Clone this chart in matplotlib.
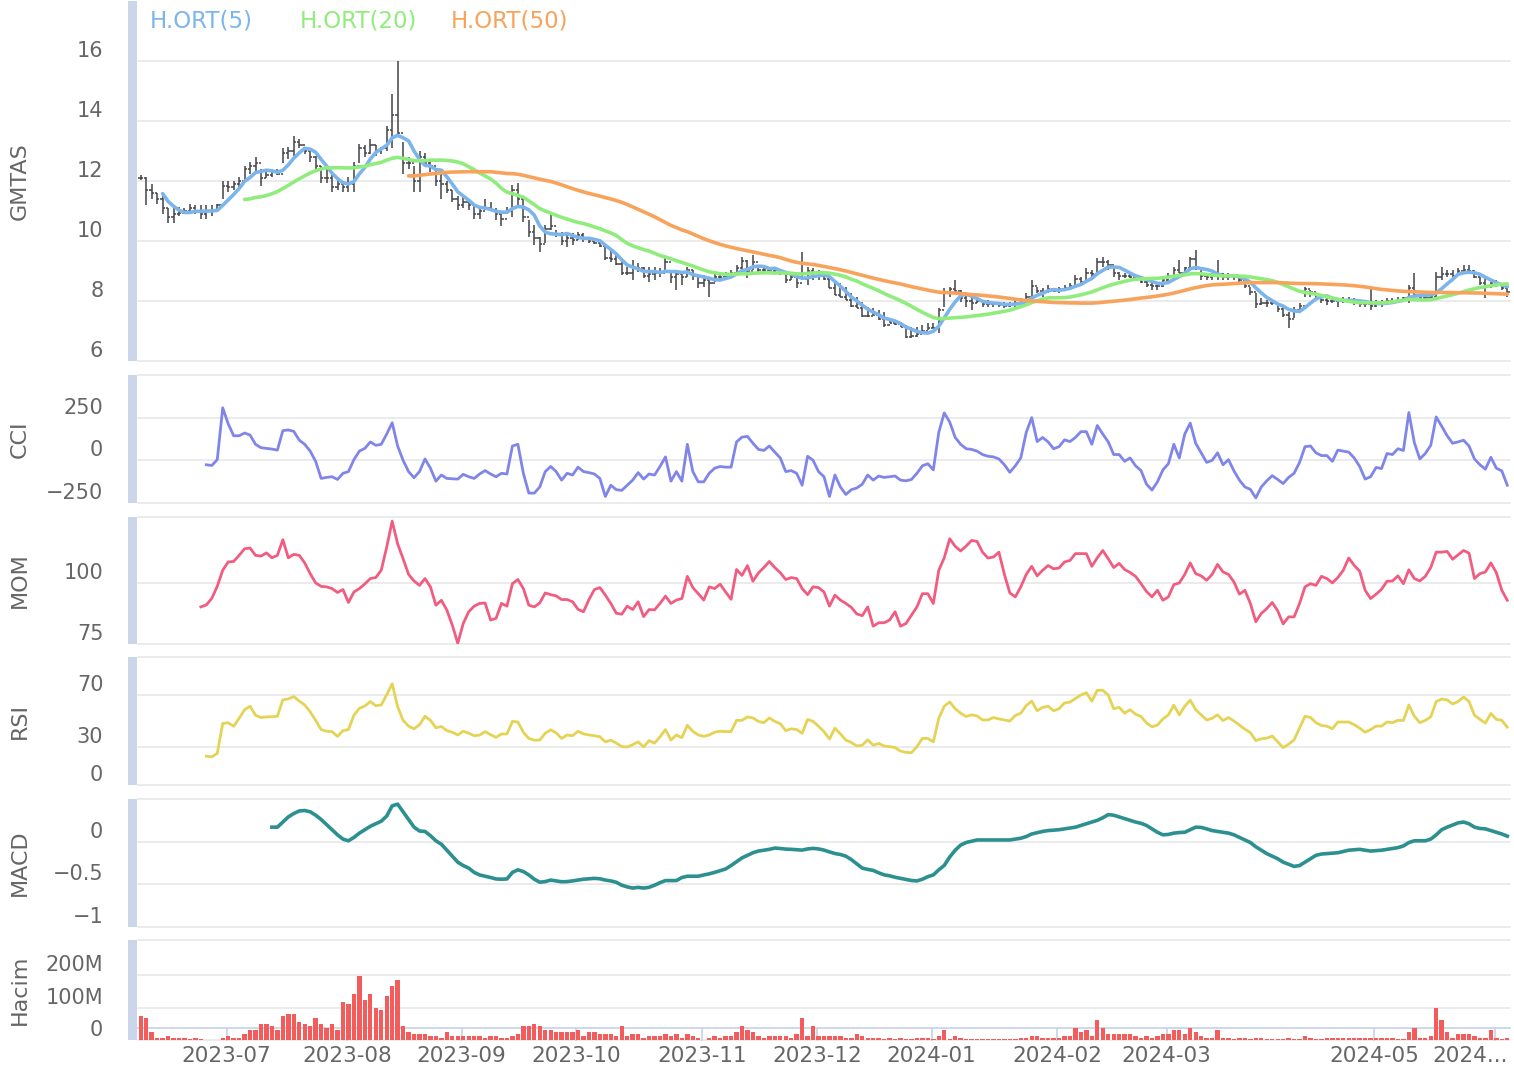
import numpy as np
import pandas as pd
import matplotlib
matplotlib.use("Agg")
import matplotlib.pyplot as plt
from matplotlib.collections import LineCollection
from matplotlib.patches import Rectangle
from matplotlib.transforms import ScaledTranslation, blended_transform_factory

plt.rcParams['font.family'] = ['DejaVu Sans']

# ---------------- data ----------------
high = [
    12.2, 12.15, 11.9, 11.6, 11.5, 11.1, 11.1, 11.15, 11.1, 11.25,
    11.2, 11.2, 11.2, 11.2, 11.25, 12.0, 12.0, 12.0, 12.15, 12.5,
    12.65, 12.8, 12.4, 12.35, 12.4, 12.4, 13.1, 13.15, 13.5, 13.4,
    13.15, 13.0, 12.85, 12.5, 12.4, 12.2, 12.15, 12.0, 12.15, 12.65,
    13.25, 13.2, 13.4, 13.2, 13.15, 13.85, 14.9, 16.0, 13.3, 12.8,
    12.5, 13.0, 12.95, 12.7, 12.4, 12.4, 12.0, 11.7, 11.5, 11.5,
    11.4, 11.2, 11.15, 11.4, 11.3, 11.1, 11.0, 11.15, 11.87, 11.92,
    11.42, 10.7, 10.53, 10.14, 10.53, 10.92, 10.37, 10.31, 10.26, 10.26,
    10.31, 10.26, 10.14, 10.09, 10.03, 9.87, 9.7, 9.64, 9.42, 9.14,
    9.37, 9.26, 9.14, 9.14, 9.14, 9.09, 9.42, 9.03, 9.03, 8.98,
    9.14, 9.03, 8.87, 8.87, 8.7, 8.92, 8.92, 8.98, 9.03, 9.2,
    9.48, 9.37, 9.53, 9.14, 9.09, 9.14, 9.14, 9.03, 8.92, 8.92,
    8.92, 9.64, 9.14, 9.09, 9.03, 8.92, 8.81, 8.7, 8.59, 8.48,
    8.26, 8.14, 7.98, 7.81, 7.76, 7.7, 7.64, 7.42, 7.37, 7.31,
    7.2, 7.14, 7.14, 7.2, 7.26, 7.26, 7.76, 8.42, 8.48, 8.7,
    8.37, 8.26, 8.2, 8.14, 8.03, 8.03, 7.98, 7.98, 7.98, 7.98,
    8.03, 8.09, 8.26, 8.7, 8.48, 8.42, 8.53, 8.42, 8.48, 8.53,
    8.59, 8.87, 8.81, 9.09, 9.03, 9.42, 9.48, 9.37, 9.09, 8.98,
    8.92, 8.92, 8.87, 8.81, 8.7, 8.64, 8.53, 8.76, 8.92, 9.14,
    9.37, 9.14, 9.48, 9.7, 9.03, 8.92, 8.92, 9.37, 8.92, 8.92,
    8.87, 8.87, 8.59, 8.48, 8.26, 8.09, 8.03, 8.03, 7.92, 7.81,
    7.64, 7.81, 7.92, 8.48, 8.37, 8.2, 8.14, 8.09, 8.14, 8.09,
    8.14, 8.14, 8.09, 8.03, 7.98, 8.48, 8.03, 8.03, 8.09, 8.09,
    8.14, 8.14, 8.53, 8.92, 8.2, 8.2, 8.2, 8.98, 9.14, 9.03,
    9.03, 9.09, 9.2, 9.2, 9.03, 8.81, 8.76, 8.64, 8.7, 8.59,
    8.48,
]
low = [
    12.05, 11.2, 11.4, 11.25, 10.9, 10.6, 10.6, 10.85, 10.9, 10.9,
    10.9, 10.75, 10.75, 10.85, 11.0, 11.4, 11.65, 11.7, 11.75, 12.05,
    12.25, 12.3, 11.85, 12.1, 12.15, 12.2, 12.6, 12.75, 12.85, 13.1,
    12.9, 12.65, 12.4, 11.95, 11.95, 11.65, 11.7, 11.65, 11.65, 11.65,
    12.6, 12.8, 12.9, 12.85, 12.9, 13.0, 13.1, 13.5, 12.25, 12.4,
    11.65, 11.65, 12.5, 12.3, 11.85, 11.4, 11.6, 11.3, 11.05, 11.1,
    11.05, 10.75, 10.75, 11.05, 11.0, 10.7, 10.5, 10.9, 10.8, 11.14,
    10.64, 10.14, 9.87, 9.64, 9.92, 10.37, 10.14, 9.87, 9.81, 9.87,
    10.03, 9.98, 9.92, 9.9, 9.81, 9.37, 9.31, 9.2, 8.87, 8.87,
    8.7, 8.98, 8.76, 8.64, 8.7, 8.81, 8.92, 8.59, 8.37, 8.53,
    8.81, 8.7, 8.42, 8.48, 8.14, 8.64, 8.7, 8.7, 8.81, 8.87,
    9.03, 8.76, 9.03, 8.98, 8.98, 8.92, 8.92, 8.87, 8.59, 8.7,
    8.42, 8.7, 8.53, 8.7, 8.7, 8.7, 8.42, 8.2, 8.14, 8.03,
    7.81, 7.76, 7.48, 7.48, 7.53, 7.37, 7.14, 7.26, 7.2, 7.14,
    6.76, 6.76, 6.81, 6.92, 7.03, 7.09, 6.92, 7.81, 8.14, 8.3,
    7.98, 7.81, 7.7, 7.92, 7.81, 7.81, 7.81, 7.81, 7.76, 7.81,
    7.81, 7.87, 7.92, 8.14, 8.26, 8.14, 8.26, 8.31, 8.26, 8.37,
    8.42, 8.48, 8.53, 8.7, 8.7, 8.92, 9.14, 9.03, 8.81, 8.7,
    8.76, 8.76, 8.7, 8.59, 8.48, 8.37, 8.37, 8.48, 8.64, 8.81,
    8.92, 8.87, 9.03, 9.03, 8.7, 8.7, 8.7, 8.7, 8.7, 8.7,
    8.7, 8.64, 8.42, 8.2, 7.76, 7.87, 7.81, 7.87, 7.64, 7.48,
    7.09, 7.42, 7.64, 8.14, 8.14, 8.03, 7.92, 7.87, 7.92, 7.81,
    7.92, 7.92, 7.87, 7.81, 7.81, 7.7, 7.81, 7.81, 7.87, 7.92,
    7.98, 7.98, 7.92, 8.14, 8.03, 8.03, 8.03, 8.14, 8.7, 8.81,
    8.76, 8.87, 8.92, 8.92, 8.76, 8.53, 8.09, 8.42, 8.48, 8.37,
    8.14,
]
close = [
    12.1, 11.7, 11.6, 11.4, 11.1, 10.8, 10.9, 10.95, 11.0, 11.1,
    11.0, 10.9, 11.0, 11.0, 11.2, 11.85, 11.8, 11.9, 12.0, 12.4,
    12.5, 12.6, 12.1, 12.2, 12.3, 12.25, 12.95, 13.0, 13.3, 13.2,
    13.0, 12.8, 12.5, 12.1, 12.1, 11.8, 11.9, 11.8, 11.9, 12.5,
    13.1, 12.95, 13.2, 13.0, 13.1, 13.7, 14.2, 13.6, 12.6, 12.6,
    12.0, 12.8, 12.6, 12.5, 12.0, 11.9, 11.7, 11.4, 11.2, 11.3,
    11.2, 10.9, 11.0, 11.1, 11.05, 10.9, 10.75, 11.0, 11.7, 11.4,
    10.8, 10.3, 10.1, 9.9, 10.4, 10.5, 10.25, 10.0, 10.1, 10.05,
    10.2, 10.1, 10.0, 9.92, 9.82, 9.45, 9.4, 9.25, 8.95, 8.95,
    9.1, 9.1, 8.85, 8.9, 8.95, 8.95, 9.3, 8.8, 8.9, 8.8,
    9.05, 8.85, 8.6, 8.7, 8.6, 8.8, 8.8, 8.85, 8.95, 9.1,
    9.35, 9.0, 9.3, 9.05, 9.05, 9.0, 9.05, 8.95, 8.7, 8.8,
    8.6, 8.75, 9.0, 8.95, 8.9, 8.75, 8.45, 8.2, 8.15, 8.05,
    7.82, 7.78, 7.5, 7.5, 7.55, 7.4, 7.2, 7.28, 7.22, 7.15,
    6.8, 6.85, 6.9, 7.0, 7.1, 7.1, 7.7, 8.3, 8.4, 8.35,
    8.1, 8.0, 7.95, 8.0, 7.9, 7.9, 7.9, 7.88, 7.85, 7.9,
    7.95, 8.0, 8.15, 8.5, 8.35, 8.3, 8.4, 8.35, 8.4, 8.45,
    8.5, 8.75, 8.65, 8.95, 8.9, 9.3, 9.3, 9.2, 8.95, 8.85,
    8.85, 8.8, 8.75, 8.65, 8.55, 8.5, 8.5, 8.7, 8.85, 9.05,
    8.95, 9.1, 9.4, 9.1, 8.85, 8.8, 8.85, 8.9, 8.8, 8.85,
    8.8, 8.7, 8.5, 8.3, 7.9, 7.95, 7.95, 7.95, 7.75, 7.55,
    7.4, 7.7, 7.85, 8.4, 8.3, 8.1, 8.05, 8.0, 8.0, 8.0,
    8.05, 8.05, 8.0, 7.9, 7.9, 7.85, 7.95, 7.95, 8.0, 8.0,
    8.05, 8.1, 8.45, 8.2, 8.1, 8.1, 8.15, 8.8, 8.9, 8.9,
    8.85, 9.0, 9.05, 9.0, 8.8, 8.6, 8.5, 8.6, 8.55, 8.45,
    8.3,
]
# volume in millions
volume = [
    74, 68, 25, 6, 6, 12, 6, 6, 6, 2,
    6, 2, 1, 1, 1, 6, 12, 6, 6, 19,
    31, 31, 49, 49, 43, 31, 74, 80, 80, 56,
    49, 43, 68, 49, 37, 49, 31, 117, 111, 142,
    198, 124, 142, 99, 93, 136, 167, 185, 43, 25,
    19, 19, 19, 12, 12, 6, 25, 12, 12, 12,
    12, 12, 12, 6, 12, 12, 6, 6, 12, 19,
    43, 43, 49, 43, 31, 31, 25, 25, 25, 25,
    31, 12, 25, 25, 19, 19, 19, 12, 43, 12,
    19, 19, 6, 12, 12, 12, 19, 12, 19, 6,
    19, 12, 6, 1, 6, 12, 6, 12, 12, 25,
    43, 31, 25, 12, 6, 12, 12, 12, 12, 6,
    19, 68, 12, 43, 12, 12, 12, 12, 12, 6,
    6, 19, 12, 6, 6, 6, 3, 6, 3, 6,
    3, 3, 6, 6, 6, 3, 12, 31, 3, 12,
    6, 2, 2, 2, 2, 2, 2, 2, 2, 2,
    2, 6, 6, 12, 12, 6, 6, 6, 6, 12,
    12, 37, 25, 31, 12, 62, 37, 19, 19, 19,
    19, 19, 12, 6, 12, 6, 12, 19, 19, 31,
    31, 19, 37, 25, 12, 6, 6, 31, 6, 6,
    3, 6, 6, 2, 6, 6, 2, 2, 2, 2,
    6, 2, 2, 12, 6, 2, 2, 6, 6, 6,
    6, 6, 6, 6, 6, 6, 6, 6, 6, 6,
    2, 2, 25, 37, 6, 6, 12, 98, 62, 25,
    6, 19, 19, 19, 12, 6, 6, 31, 6, 2,
    6,
]
# indicator series, each ending on the last bar
cci = [
    -26, -30, 4, 308, 214, 144, 144, 160, 148, 94,
    74, 70, 66, 60, 174, 178, 170, 118, 94, 54,
    -6, -106, -100, -96, -112, -76, -66, 4, 54, 70,
    108, 88, 94, 154, 220, 84, 0, -66, -102, -66,
    8, -46, -122, -86, -106, -108, -110, -82, -96, -106,
    -80, -60, -80, -96, -76, -80, 84, 94, -76, -192,
    -192, -156, -66, -36, -66, -116, -76, -86, -40, -66,
    -72, -80, -106, -212, -146, -172, -176, -146, -116, -72,
    -110, -80, -86, -36, 20, -122, -66, -122, 94, -66,
    -126, -126, -76, -46, -36, -40, -40, 108, 136, 140,
    100, 64, 58, 84, 48, 14, -66, -60, -76, -146,
    24, 0, -66, -96, -212, -86, -156, -200, -172, -162,
    -140, -86, -116, -92, -100, -96, -92, -116, -120, -112,
    -76, -32, -20, -56, 164, 278, 224, 134, 94, 68,
    64, 54, 34, 24, 20, 8, -26, -70, -32, 14,
    164, 250, 110, 134, 108, 68, 80, 120, 110, 134,
    168, 168, 94, 204, 154, 108, 34, 34, -6, 14,
    -32, -60, -140, -174, -126, -56, -20, 94, 14, 154,
    218, 100, 44, -12, 0, 44, -26, 4, -62, -116,
    -156, -170, -220, -156, -120, -90, -112, -136, -100, -76,
    -12, 80, 84, 44, 28, 28, -6, 60, 54, 48,
    14, -36, -110, -96, -42, -48, 40, 34, 68, 58,
    280, 104, 8, 40, 88, 254, 200, 144, 100, 108,
    118, 84, 8, -26, -52, 18, -46, -62, -146,
]
mom = [
    90.2, 91.0, 93.7, 98.6, 105.2, 108.6, 108.8, 111.3, 114.0, 114.3,
    111.3, 111.0, 112.3, 110.3, 111.3, 117.7, 110.3, 111.7, 111.3, 108.2,
    103.8, 100.0, 98.6, 98.4, 97.7, 96.1, 97.3, 92.0, 96.3, 97.7,
    99.6, 101.8, 102.2, 105.2, 114.7, 125.3, 116.0, 109.9, 103.5, 100.8,
    99.0, 101.8, 98.4, 90.9, 92.9, 88.9, 82.7, 75.3, 83.4, 88.2,
    90.5, 91.6, 91.8, 84.8, 85.5, 91.6, 90.5, 99.7, 101.4, 97.7,
    90.9, 90.2, 91.8, 95.9, 95.2, 94.7, 93.2, 93.2, 92.3, 89.2,
    88.2, 93.2, 97.3, 98.1, 95.0, 91.6, 87.6, 87.2, 90.5, 89.1,
    92.3, 86.2, 89.1, 89.0, 91.6, 94.6, 91.6, 93.0, 93.6, 102.7,
    98.1, 95.6, 93.0, 98.4, 97.7, 99.5, 96.3, 93.3, 105.5, 103.1,
    107.1, 100.7, 104.1, 106.3, 108.8, 106.3, 104.2, 101.4, 102.2, 101.8,
    97.7, 95.2, 98.4, 98.1, 96.3, 90.5, 95.0, 93.0, 91.6, 90.0,
    87.3, 86.6, 90.2, 82.3, 83.7, 83.7, 84.8, 88.2, 82.3, 83.4,
    86.8, 90.2, 95.6, 95.6, 91.6, 105.2, 110.3, 118.1, 115.0, 113.1,
    115.1, 117.4, 117.0, 112.6, 110.2, 110.6, 112.6, 103.5, 95.9, 94.3,
    98.4, 103.5, 106.8, 102.9, 105.2, 107.1, 105.8, 106.1, 108.6, 109.2,
    112.0, 112.0, 112.0, 106.8, 110.3, 113.3, 109.9, 106.3, 108.0, 105.5,
    104.3, 102.7, 99.7, 96.5, 94.3, 97.0, 92.9, 94.3, 99.3, 100.0,
    103.5, 108.2, 103.8, 102.9, 101.1, 103.5, 107.6, 104.5, 103.5, 100.4,
    95.4, 97.0, 91.6, 84.1, 87.5, 89.5, 92.0, 88.6, 83.2, 86.1,
    86.1, 91.6, 98.4, 99.7, 99.0, 102.7, 101.8, 100.0, 102.2, 105.2,
    110.2, 107.2, 104.8, 97.0, 93.6, 95.4, 97.4, 100.7, 100.8, 102.9,
    99.7, 105.4, 101.8, 100.8, 102.7, 106.3, 112.6, 112.6, 112.9, 109.7,
    111.5, 113.3, 112.2, 101.8, 103.8, 104.5, 108.2, 104.2, 97.0, 92.9,
]
rsi = [
    22.5, 22.0, 24.7, 48.1, 48.6, 45.9, 52.1, 58.8, 61.5, 54.5,
    52.7, 53.2, 53.3, 53.7, 66.5, 67.3, 69.1, 65.6, 62.5, 57.2,
    50.5, 43.3, 42.0, 41.7, 38.0, 42.5, 43.3, 54.5, 59.9, 61.7,
    65.2, 62.0, 62.5, 70.5, 79.1, 61.2, 50.5, 46.0, 43.9, 47.1,
    53.7, 50.5, 44.7, 45.7, 42.5, 41.2, 39.1, 42.0, 40.5, 38.5,
    39.0, 41.7, 39.3, 37.2, 39.9, 39.9, 49.7, 49.2, 41.2, 36.4,
    35.1, 35.1, 40.4, 43.1, 40.7, 36.4, 39.1, 38.5, 42.0, 39.9,
    39.1, 38.5, 37.7, 33.7, 35.1, 32.7, 30.0, 29.7, 31.5, 33.7,
    29.7, 34.7, 32.7, 37.7, 43.3, 35.1, 39.1, 37.0, 46.7, 41.9,
    39.1, 38.0, 39.1, 41.2, 42.0, 41.7, 41.7, 50.5, 50.5, 53.2,
    52.4, 49.7, 48.7, 52.4, 49.7, 47.9, 42.5, 43.9, 43.3, 40.4,
    51.2, 49.7, 45.9, 41.7, 35.9, 44.4, 39.9, 35.1, 33.2, 30.5,
    31.1, 35.3, 31.1, 32.4, 30.5, 30.0, 29.2, 26.5, 25.5, 25.2,
    30.0, 36.4, 36.4, 33.7, 52.1, 61.5, 64.9, 59.6, 56.1, 53.5,
    54.8, 54.0, 50.8, 50.8, 52.7, 51.6, 50.8, 50.0, 54.3, 56.1,
    62.0, 65.5, 58.0, 60.7, 61.5, 58.0, 59.6, 64.1, 64.7, 67.6,
    70.3, 72.1, 65.5, 74.0, 74.0, 70.3, 59.6, 60.7, 56.1, 58.8,
    55.3, 53.5, 48.5, 45.5, 46.8, 51.6, 54.8, 62.3, 54.8, 61.5,
    66.3, 58.8, 54.8, 50.8, 52.1, 54.8, 50.3, 52.7, 50.0, 46.8,
    43.6, 40.9, 34.7, 36.1, 36.6, 38.3, 33.7, 29.2, 31.9, 35.3,
    44.4, 53.7, 52.7, 48.7, 46.5, 46.0, 43.9, 49.2, 49.2, 49.2,
    47.1, 44.4, 41.2, 43.3, 46.0, 46.0, 49.2, 48.7, 50.5, 50.5,
    62.5, 53.7, 48.7, 50.5, 53.2, 65.2, 67.1, 66.5, 63.3, 65.2,
    68.7, 65.2, 54.5, 51.3, 48.4, 55.9, 51.3, 50.5, 45.2,
]
macd = [
    0.17, 0.17, 0.23, 0.29, 0.33, 0.36, 0.365, 0.35, 0.31, 0.26,
    0.20, 0.14, 0.08, 0.03, 0.01, 0.05, 0.10, 0.14, 0.18, 0.21,
    0.24, 0.30, 0.42, 0.44, 0.35, 0.26, 0.17, 0.125, 0.12, 0.07,
    0.01, -0.03, -0.10, -0.17, -0.24, -0.28, -0.31, -0.36, -0.39, -0.405,
    -0.42, -0.437, -0.44, -0.437, -0.36, -0.33, -0.35, -0.39, -0.44, -0.475,
    -0.468, -0.45, -0.46, -0.47, -0.468, -0.46, -0.45, -0.44, -0.435, -0.43,
    -0.435, -0.45, -0.46, -0.476, -0.51, -0.53, -0.544, -0.536, -0.544, -0.535,
    -0.51, -0.48, -0.456, -0.456, -0.456, -0.42, -0.405, -0.405, -0.405, -0.39,
    -0.377, -0.36, -0.34, -0.32, -0.28, -0.235, -0.19, -0.16, -0.13, -0.11,
    -0.10, -0.09, -0.075, -0.08, -0.087, -0.09, -0.095, -0.099, -0.085, -0.079,
    -0.085, -0.099, -0.12, -0.139, -0.15, -0.17, -0.21, -0.26, -0.31, -0.325,
    -0.337, -0.365, -0.389, -0.40, -0.417, -0.43, -0.444, -0.455, -0.46, -0.44,
    -0.41, -0.39, -0.33, -0.278, -0.18, -0.10, -0.04, -0.01, 0.005, 0.02,
    0.02, 0.02, 0.02, 0.02, 0.02, 0.02, 0.03, 0.04, 0.06, 0.09,
    0.105, 0.12, 0.13, 0.135, 0.14, 0.15, 0.16, 0.17, 0.19, 0.21,
    0.23, 0.25, 0.28, 0.317, 0.31, 0.29, 0.27, 0.25, 0.23, 0.215,
    0.19, 0.15, 0.11, 0.08, 0.085, 0.10, 0.107, 0.11, 0.14, 0.17,
    0.167, 0.15, 0.13, 0.12, 0.11, 0.10, 0.08, 0.05, 0.02, -0.01,
    -0.06, -0.10, -0.14, -0.17, -0.20, -0.24, -0.265, -0.29, -0.28, -0.24,
    -0.20, -0.16, -0.145, -0.14, -0.135, -0.13, -0.115, -0.10, -0.095, -0.09,
    -0.10, -0.11, -0.105, -0.10, -0.09, -0.08, -0.07, -0.05, -0.01, 0.01,
    0.01, 0.01, 0.03, 0.08, 0.14, 0.17, 0.195, 0.22, 0.23, 0.21,
    0.17, 0.155, 0.15, 0.13, 0.11, 0.09, 0.065,
]
ma_periods = [5, 20, 50]
ma_names = ['H.ORT(5)', 'H.ORT(20)', 'H.ORT(50)']
# first trading day of each labelled month (bar index) and its label
month_idx = [16, 38, 59, 80, 103, 124, 145, 168, 188, 226, 248]
month_lbl = ['2023-07', '2023-08', '2023-09', '2023-10', '2023-11', '2023-12',
             '2024-01', '2024-02', '2024-03', '2024-05', '2024...']

# ---------------- figure ----------------
n = len(close)
x = np.arange(n)
opn = [close[0]] + close[:-1]

W, H = 1514, 1071
fig = plt.figure(figsize=(W / 100, H / 100), dpi=100)
fig.patch.set_facecolor('white')

L, R = 138, 1510
grey = '#666666'
gridc = '#e6e6e6'
stripc = '#ccd6eb'
ma_colors = ['#7cb5ec', '#90ed7d', '#f7a35c']

panes = [
    (1, 361, (6, 18), [6, 8, 10, 12, 14, 16], [6, 8, 10, 12, 14, 16],
     ['6', '8', '10', '12', '14', '16'], 'GMTAS'),
    (375, 503, (-250, 500), [-250, 0, 250, 500], [-250, 0, 250],
     ['\u2212250', '0', '250'], 'CCI'),
    (517, 644, (75, 127), [75, 100, 127], [75, 100], ['75', '100'], 'MOM'),
    (657, 785, (0, 100), [0, 30, 70, 100], [0, 30, 70], ['0', '30', '70'], 'RSI'),
    (799, 927, (-1, 0.5), [-1, -0.5, 0, 0.5], [-1, -0.5, 0],
     ['\u22121', '\u22120.5', '0'], 'MACD'),
    (940, 1040, (0, 310), [0, 100, 200, 310], [0, 100, 200],
     ['0', '100M', '200M'], 'Hacim'),
]

axes = []
for top, bot, ylim, grid, ticks, labels, title in panes:
    ax = fig.add_axes([L / W, 1 - bot / H, (R - L) / W, (bot - top) / H])
    ax.set_xlim(-0.5, n - 0.5)
    ax.set_ylim(*ylim)
    for s in ax.spines.values():
        s.set_visible(False)
    ax.set_xticks([])
    ax.set_yticks(ticks)
    ax.set_yticklabels(labels)
    ax.tick_params(axis='y', length=0, pad=25, labelsize=15, labelcolor=grey)
    off = ScaledTranslation(0, 12 / 100, fig.dpi_scale_trans)
    for lab in ax.get_yticklabels():
        lab.set_transform(lab.get_transform() + off)
    for g in grid:
        ax.axhline(g, color=gridc, lw=1.1, zorder=0, clip_on=False)
    ax.set_facecolor('none')
    # left marker strip of each pane
    fig.add_artist(Rectangle((128 / W, 1 - bot / H), 9 / W, (bot - max(top, 0)) / H,
                             transform=fig.transFigure, color=stripc, lw=0))
    fig.text(20 / W, 1 - (top + bot) / 2 / H, title, rotation=90,
             ha='center', va='center', color=grey, fontsize=16)
    axes.append(ax)

ax_p, ax_cci, ax_mom, ax_rsi, ax_macd, ax_vol = axes

# price: OHLC bars
segs = []
for i in range(n):
    segs.append([(x[i], low[i]), (x[i], high[i])])
    segs.append([(x[i] - 0.42, opn[i]), (x[i], opn[i])])
    segs.append([(x[i], close[i]), (x[i] + 0.42, close[i])])
ax_p.add_collection(LineCollection(segs, colors='#434348', linewidths=1.1, zorder=2))

cs = pd.Series(close)
for p, c in zip(ma_periods, ma_colors):
    ax_p.plot(x, cs.rolling(p).mean(), color=c, lw=2.6, zorder=3,
              solid_capstyle='round', solid_joinstyle='round')

legend_x = [150, 300, 451]
for name, c, lx in zip(ma_names, ma_colors, legend_x):
    fig.text(lx / W, 1 - 21 / H, name, color=c, fontsize=16.5, ha='left', va='center')


def tail_x(series):
    return np.arange(n - len(series), n)


ax_cci.plot(tail_x(cci), cci, color='#8085e9', lw=2.0, zorder=3)
ax_mom.plot(tail_x(mom), mom, color='#f15c80', lw=2.0, zorder=3)
ax_rsi.plot(tail_x(rsi), rsi, color='#e4d354', lw=2.0, zorder=3)
ax_macd.plot(tail_x(macd), macd, color='#2b908f', lw=2.6, zorder=3,
             solid_joinstyle='round')

ax_vol.bar(x, volume, width=0.8, color='#f45b5b', zorder=3)

# x axis line, month ticks and labels
axis_y = (1040 - 1028) / (1040 - 940)
ax_vol.plot([0, 1], [axis_y, axis_y], transform=ax_vol.transAxes, color=stripc,
            lw=1.3, zorder=1, clip_on=False)
bt = blended_transform_factory(ax_vol.transData, ax_vol.transAxes)
bf = blended_transform_factory(ax_vol.transData, fig.transFigure)
for k, (m, lbl) in enumerate(zip(month_idx, month_lbl)):
    ax_vol.plot([m - 0.3, m - 0.3], [0, axis_y], transform=bt, color=stripc,
                lw=1.3, zorder=1, clip_on=False)
    if k == len(month_idx) - 1:
        fig.text(1508 / W, 1 - 1056 / H, lbl, color=grey, fontsize=15.5,
                 ha='right', va='center')
    else:
        ax_vol.text(m - 0.3, 1 - 1056 / H, lbl, transform=bf, color=grey,
                    fontsize=15.5, ha='center', va='center')

fig.savefig('out.png', dpi=100, facecolor='white')
